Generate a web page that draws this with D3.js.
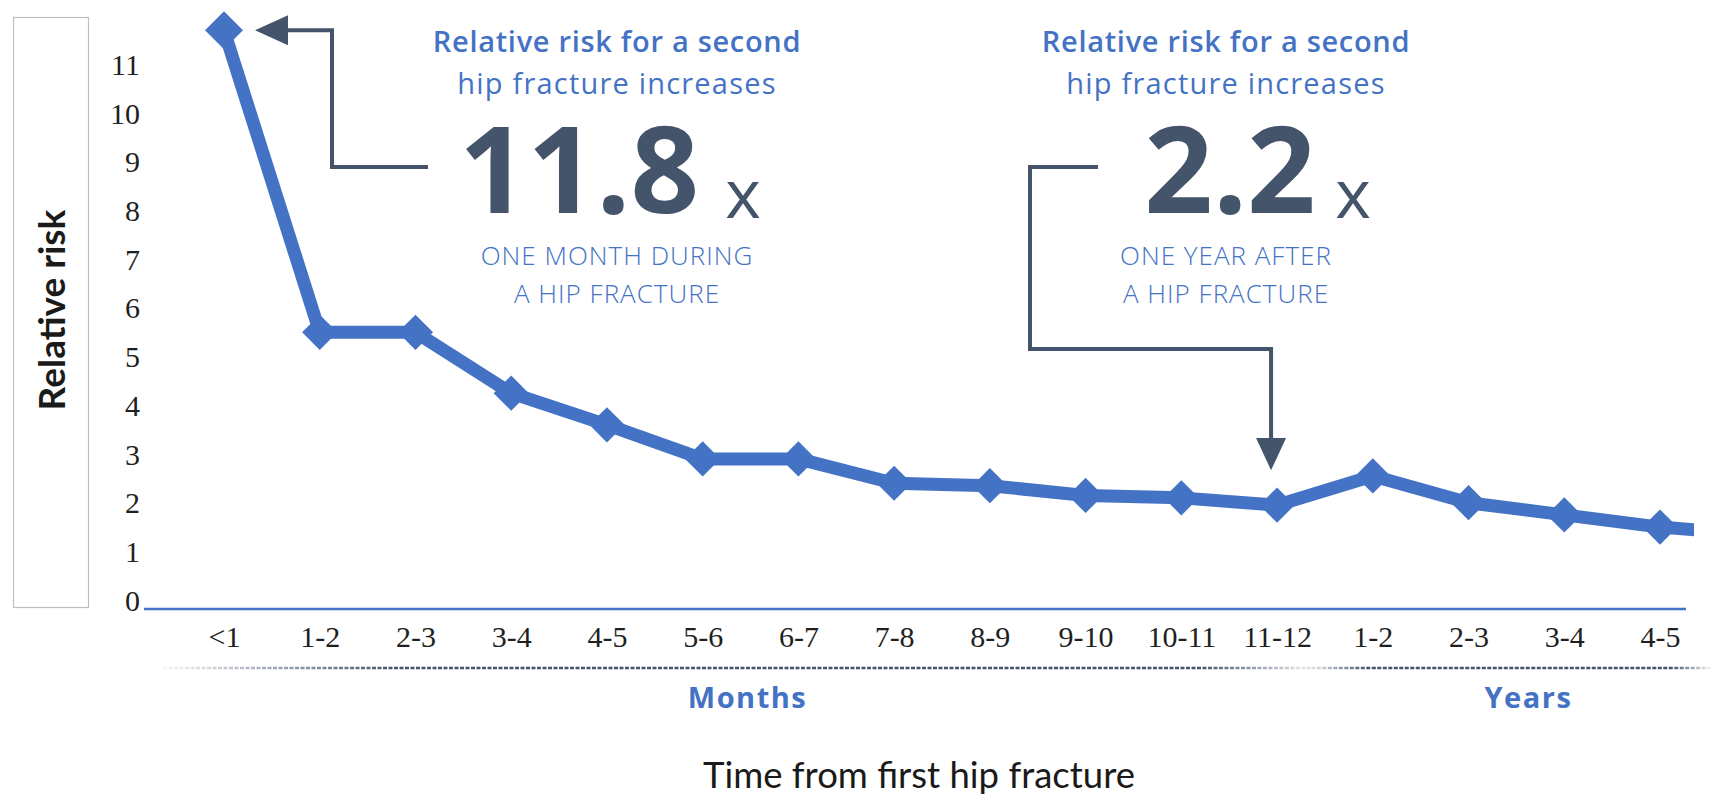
<!DOCTYPE html>
<html>
<head>
<meta charset="utf-8">
<script src="https://cdn.jsdelivr.net/npm/d3@7"></script>
<style>
  body { margin: 0; background: #fff; }
  svg { display: block; }
</style>
</head>
<body>
<div id="chart"></div>
<script>
// time buckets after the first fracture (months, then years)
const categories = ["<1", "1-2", "2-3", "3-4", "4-5", "5-6", "6-7", "7-8", "8-9", "9-10", "10-11", "11-12", "1-2", "2-3", "3-4", "4-5"];
const relativeRisk = [11.8, 5.6, 5.6, 4.35, 3.7, 3.0, 3.0, 2.5, 2.45, 2.25, 2.2, 2.05, 2.65, 2.1, 1.85, 1.6];
// next point is outside the visible plot, line is cut at the edge
const offPlotRisk = [1.45];
const yTicks = [0, 1, 2, 3, 4, 5, 6, 7, 8, 9, 10, 11];
const groups = [{ label: "Months", from: 0, to: 11 }, { label: "Years", from: 12, to: 15 }];

const width = 1712, height = 796;
const blue = "#4472C4", dark = "#44546A";

const svg = d3.select("#chart")
    .append("svg")
    .attr("width", width)
    .attr("height", height);

const x = d3.scaleLinear()
    .domain([0, categories.length - 1])
    .range([224, 1660]);

const y = d3.scaleLinear()
    .domain([0, 12])
    .range([605, 605 - 12 * 48.7]);

// y label box
svg.append("rect")
    .attr("x", 13.5).attr("y", 17.5)
    .attr("width", 75).attr("height", 590)
    .attr("fill", "none")
    .attr("stroke", "#bfbfbf")
    .attr("stroke-width", 1.2);

svg.append("text")
    .attr("transform", "translate(50,310) rotate(-90)")
    .attr("text-anchor", "middle")
    .attr("dominant-baseline", "central")
    .style("font-family", "Lato")
    .style("font-weight", "700")
    .style("font-size", "37px")
    .style("fill", "#1a1a1a")
    .text("Relative risk");

const tickFont = sel => sel
    .style("font-family", "Liberation Serif")
    .style("font-size", "30px")
    .style("fill", "#1f1f1f");

// y axis, labels only
const yAxis = svg.append("g")
    .attr("transform", "translate(148,-4.5)")
    .call(d3.axisLeft(y).tickValues(yTicks).tickSize(0).tickPadding(8).tickFormat(d3.format("d")));
yAxis.select(".domain").remove();
yAxis.selectAll("text").call(tickFont);

// x axis
const axisY = y(0) + 4;
const xAxis = svg.append("g")
    .attr("transform", `translate(0,${axisY})`)
    .call(d3.axisBottom(x).tickValues(d3.range(categories.length)).tickSize(0)
        .tickFormat(i => categories[i]));
xAxis.select(".domain")
    .attr("d", `M144,0H1686`)
    .attr("stroke", blue)
    .attr("stroke-width", 2.5);
xAxis.selectAll("text")
    .attr("dy", null)
    .attr("y", 647 - axisY)
    .call(tickFont);

// group separators (dotted, fading at ends)
const defs = svg.append("defs");
const step = x(1) - x(0);
groups.forEach(g => {
    const x0 = g.from === 0 ? 163 : x(g.from) - step * 0.7;
    const x1 = g.from === 0 ? x(g.to) + step * 0.4 : width;
    const id = "fade" + g.label;
    const grad = defs.append("linearGradient").attr("id", id)
        .attr("gradientUnits", "userSpaceOnUse")
        .attr("x1", x0).attr("x2", x1).attr("y1", 0).attr("y2", 0);
    const a = g.from === 0 ? 0.2 : 0.15;
    [[0, 0.05], [a, 1], [0.9, 1], [1, 0.05]].forEach(s =>
        grad.append("stop").attr("offset", s[0]).attr("stop-color", dark).attr("stop-opacity", s[1]));
    svg.append("line")
        .attr("x1", x0).attr("x2", x1)
        .attr("y1", 668).attr("y2", 668)
        .attr("stroke", `url(#${id})`)
        .attr("stroke-width", 2.5)
        .attr("stroke-dasharray", "4,1.5");
    svg.append("text")
        .attr("x", (x(g.from) + x(g.to)) / 2 + (g.label === "Years" ? 12 : -3))
        .attr("y", 708)
        .attr("text-anchor", "middle")
        .style("font-family", "Open Sans")
        .style("font-weight", "700")
        .style("font-size", "29px")
        .style("letter-spacing", "1.5px")
        .style("fill", blue)
        .text(g.label);
});

svg.append("text")
    .attr("x", 919)
    .attr("y", 788)
    .attr("text-anchor", "middle")
    .style("font-family", "Lato")
    .style("font-size", "36.5px")
    .style("fill", "#1a1a1a")
    .text("Time from first hip fracture");

// line + diamonds
defs.append("clipPath").attr("id", "plot")
    .append("rect").attr("x", 0).attr("y", 0).attr("width", 1694).attr("height", height);

const lineData = relativeRisk.concat(offPlotRisk);
svg.append("path")
    .datum(lineData)
    .attr("clip-path", "url(#plot)")
    .attr("fill", "none")
    .attr("stroke", blue)
    .attr("stroke-width", 13)
    .attr("stroke-linejoin", "round")
    .attr("d", d3.line().x((d, i) => x(i)).y(d => y(d)));

svg.selectAll(".marker")
    .data(relativeRisk)
    .enter().append("path")
    .attr("class", "marker")
    .attr("transform", (d, i) => `translate(${x(i)},${y(d)}) rotate(45)`)
    .attr("d", (d, i) => d3.symbol(d3.symbolSquare, i === 0 ? 720 : 620)())
    .attr("fill", blue);

// annotations
function callout(cx, num, numX, xX, line3, arrowPath, head) {
    const t = svg.append("g").style("fill", blue).attr("text-anchor", "middle");
    t.append("text").attr("x", cx).attr("y", 52)
        .style("font-family", "Open Sans").style("font-weight", "600").style("font-size", "29px")
        .style("letter-spacing", "0.7px")
        .text("Relative risk for a second");
    t.append("text").attr("x", cx).attr("y", 94)
        .style("font-family", "Open Sans").style("font-size", "29px")
        .style("letter-spacing", "1.2px")
        .text("hip fracture increases");
    t.append("text").attr("x", cx).attr("y", 265)
        .style("font-family", "Open Sans").style("font-weight", "300").style("font-size", "26px")
        .style("letter-spacing", "1px")
        .text(line3);
    t.append("text").attr("x", cx).attr("y", 303)
        .style("font-family", "Open Sans").style("font-weight", "300").style("font-size", "26px")
        .style("letter-spacing", "1px")
        .text("A HIP FRACTURE");
    svg.append("text").attr("x", numX).attr("y", 213)
        .attr("text-anchor", "middle")
        .style("font-family", "Open Sans").style("font-weight", "700").style("font-size", "120px")
        .style("fill", dark)
        .text(num);
    svg.append("text").attr("x", xX).attr("y", 218).attr("text-anchor", "middle")
        .style("font-family", "Open Sans").style("font-size", "68px").style("fill", dark)
        .text("x");
    svg.append("path")
        .attr("d", arrowPath)
        .attr("fill", "none")
        .attr("stroke", dark)
        .attr("stroke-width", 4);
    svg.append("path")
        .attr("d", head)
        .attr("fill", dark);
}

const p0 = [x(0), y(relativeRisk[0])];
callout(617, "11.8", 579, 743, "ONE MONTH DURING",
    `M428,167H332V${p0[1]}H285`,
    `M${p0[0] + 31},${p0[1]}L${p0[0] + 64},${p0[1] - 15}V${p0[1] + 15}Z`);

const p11 = [x(11) - 6, y(relativeRisk[11])];
callout(1226, "2.2", 1230, 1353, "ONE YEAR AFTER",
    `M1098,167H1030V349H${p11[0]}V440`,
    `M${p11[0] - 15},438H${p11[0] + 15}L${p11[0]},${p11[1] - 35}Z`);
</script>
</body>
</html>
